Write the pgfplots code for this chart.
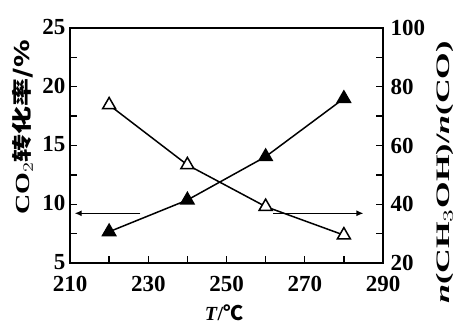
\documentclass[border=0pt]{standalone}
\usepackage{fontspec}
\setmainfont{Liberation Serif}
\newfontfamily\cjk{Noto Sans CJK SC}
\usepackage{pgfplots}
\pgfplotsset{compat=1.18}
\usetikzlibrary{arrows.meta}
\begin{document}
\begin{tikzpicture}
\pgfplotsset{every axis/.append style={
  scale only axis, width=313pt, height=235pt,
  xmin=210, xmax=290,
  tick align=inside,
  major tick length=7pt, minor tick length=7pt,
  every tick/.style={line width=1.4pt, black},
  axis line style={line width=1.6pt},
  /pgf/number format/assume math mode=true,
  tick label style={font=\fontsize{23}{23}\selectfont\bfseries, inner sep=0.5pt},
}}
\begin{axis}[name=ax,
  ymin=5, ymax=25,
  xtick={210,230,...,290}, minor xtick={220,240,...,280},
  ytick={5,10,...,25}, minor ytick={7.5,12.5,17.5,22.5},
  xtick pos=bottom, ytick pos=left,
  xticklabel style={yshift=-12pt},
  yticklabel style={xshift=-4pt, yshift=1pt},
  xlabel={\textit{T}/\cjk{℃}},
  xlabel style={font=\fontsize{20}{20}\selectfont\bfseries, anchor=center, at={(axis description cs:0.492,-0.213)}},
  ylabel={\scalebox{1.4}[1]{CO$_2$\cjk{转化率}/\%}},
  ylabel style={font=\fontsize{20}{20}\selectfont\bfseries, anchor=center, at={(axis description cs:-0.150,0.577)}},
]
\addplot[line width=1.5pt, black, mark=triangle*, mark size=7.5pt, mark options={solid, fill=black}]
  coordinates {(220,7.66) (240,10.36) (260,14.05) (280,19.0)};
\addplot[line width=1.2pt, black, -{Latex[length=7pt,width=6pt]}]
  coordinates {(228,9.23) (211.2,9.23)};
\addplot[line width=1.2pt, black, -{Latex[length=7pt,width=6pt]}]
  coordinates {(262,9.23) (285,9.23)};
\end{axis}
\begin{axis}[
  ymin=20, ymax=100,
  axis x line=none, axis y line*=right,
  ytick={20,40,...,100}, minor ytick={30,50,70,90},
  yticklabel style={xshift=7pt},
  ylabel={\scalebox{1.8}[1]{\textit{n}(CH$_3$OH)/\textit{n}(CO)}},
  ylabel style={font=\fontsize{19}{19}\selectfont\bfseries, anchor=center, at={(axis description cs:1.198,0.385)}},
]
\addplot[line width=1.5pt, black, mark=triangle*, mark size=7.5pt, mark options={solid, fill=white}]
  coordinates {(220,73.8) (240,53.4) (260,39.2) (280,29.5)};
\end{axis}
\pgfresetboundingbox
\path ([shift={(-70pt,-68pt)}]ax.south west) rectangle ([shift={(81pt,28pt)}]ax.north east);
\end{tikzpicture}
\end{document}
